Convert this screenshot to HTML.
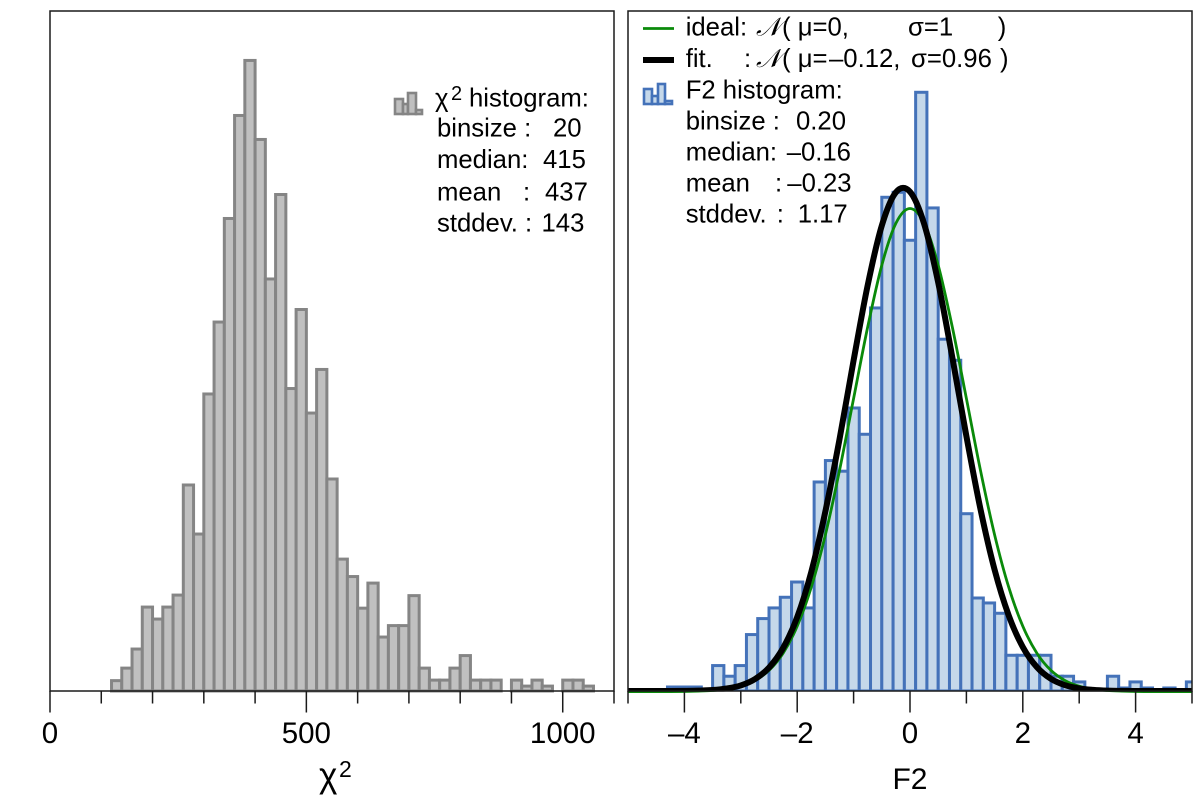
<!DOCTYPE html>
<html lang="en">
<head>
<meta charset="utf-8">
<title>Chi-square and F2 histograms</title>
<style>
html,body{margin:0;padding:0;background:#fff;width:1200px;height:809px;overflow:hidden}
svg{display:block}
text{font-family:"Liberation Sans","DejaVu Sans",sans-serif;fill:#000}
.leg{font-size:25.7px}
.tick{font-size:29.5px;text-anchor:middle}
</style>
</head>
<body>
<svg id="fig" width="1200" height="809" viewBox="0 0 1200 809" xmlns="http://www.w3.org/2000/svg">
  <defs>
    <clipPath id="clip-right-bars"><rect x="628" y="11" width="564" height="680"/></clipPath>
    <clipPath id="clip-green"><rect x="628" y="11" width="564" height="682.5"/></clipPath>
    <clipPath id="clip-black"><rect x="628" y="11" width="564" height="680.6"/></clipPath>
  </defs>
  <g id="left-marks"></g>
  <g id="right-bars" clip-path="url(#clip-right-bars)"></g>
  <g clip-path="url(#clip-green)"><path id="ideal-curve" fill="none" stroke="#0a8a0a" stroke-width="2.8" transform="translate(0,0.6)"/></g>
  <g clip-path="url(#clip-black)"><path id="fit-curve" fill="none" stroke="#000" stroke-width="6"/></g>
  <g id="left-axis"></g>
  <g id="right-axis"></g>
  <rect x="50" y="11" width="564" height="680" fill="none" stroke="#1a1a1a" stroke-width="1.5"/>
  <rect x="628" y="11" width="564" height="680" fill="none" stroke="#1a1a1a" stroke-width="1.5"/>

  <text x="319" y="787" font-size="35">χ<tspan x="339" y="777" font-size="23">2</tspan></text>
  <text x="910" y="789" font-size="30" text-anchor="middle">F2</text>

  <g>
    <g fill="#bfbfbf" stroke="#858585" stroke-width="2.6">
      <rect x="395" y="99" width="8" height="15"/>
      <rect x="403" y="104" width="5" height="10"/>
      <rect x="408" y="93" width="8" height="21"/>
      <rect x="416" y="110" width="6" height="4"/>
    </g>
    <text class="leg" x="435" y="106.7">χ<tspan x="451" y="100" font-size="20">2</tspan><tspan x="469" y="106.7">histogram:</tspan></text>
    <text class="leg" x="437" y="136.7">binsize :<tspan x="553">20</tspan></text>
    <text class="leg" x="437" y="168">median:<tspan x="543">415</tspan></text>
    <text class="leg" x="437" y="200.7">mean<tspan x="523">:</tspan><tspan x="545">437</tspan></text>
    <text class="leg" x="437" y="231.7">stddev. :<tspan x="541.5">143</tspan></text>
  </g>

  <g>
    <line x1="643" x2="674" y1="28.5" y2="28.5" stroke="#0a8a0a" stroke-width="2.8"/>
    <line x1="643" x2="674" y1="60" y2="60" stroke="#000" stroke-width="6"/>
    <g fill="#c5d8ea" stroke="#4472b9" stroke-width="2.6">
      <rect x="644" y="89" width="8" height="15"/>
      <rect x="652" y="96" width="6" height="8"/>
      <rect x="658" y="84" width="7" height="20"/>
      <rect x="665" y="101" width="7" height="3"/>
    </g>
    <text class="leg" x="685.7" y="35.7">ideal:<tspan x="756" font-family="'DejaVu Sans','Liberation Serif',serif" font-style="italic">𝒩</tspan><tspan x="782">(</tspan><tspan x="797.7">μ=0,</tspan><tspan x="908">σ=1</tspan><tspan x="997.7">)</tspan></text>
    <text class="leg" x="685.7" y="67">fit.<tspan x="744">:</tspan><tspan x="756" font-family="'DejaVu Sans','Liberation Serif',serif" font-style="italic">𝒩</tspan><tspan x="782">(</tspan><tspan x="797.7">μ=</tspan><tspan x="829">–0.12,</tspan><tspan x="911">σ=0.96</tspan><tspan x="1000">)</tspan></text>
    <text class="leg" x="685.7" y="98.3">F2 histogram:</text>
    <text class="leg" x="685.7" y="129.3">binsize :<tspan x="796">0.20</tspan></text>
    <text class="leg" x="685.7" y="160.7">median:<tspan x="786.7">–0.16</tspan></text>
    <text class="leg" x="685.7" y="191.7">mean<tspan x="775">:</tspan><tspan x="787.3">–0.23</tspan></text>
    <text class="leg" x="685.7" y="222.3">stddev.<tspan x="776.7">:</tspan><tspan x="797.7">1.17</tspan></text>
  </g>
</svg>
<script>
// chi2 histogram data
const chi2BinStarts = [120,140,160,180,200,220,240,260,280,300,320,340,360,380,400,420,440,460,480,500,520,540,560,580,600,620,640,660,680,700,720,740,760,780,800,820,840,860,880,900,920,940,960,980,1000,1020,1040];
const chi2Counts = [1.9,4.2,7.7,15.4,13.2,15.4,17.6,37.8,28.8,54.5,67.7,86.7,105.6,115.7,101.2,75.6,91.1,55.5,70,51,59,38.9,24.2,21,15.2,19.8,9.9,12,12,17.5,4.2,2,2,4.2,6.5,2,2,2,0,2,0.9,2,0.9,0,2,2,0.9];
const chi2BinWidth = [20];
const chi2MajorTicks = [0,500,1000];
const chi2MinorTicks = [100,200,300,400,600,700,800,900,1100];

// F2 histogram data (density)
const f2BinStarts = [-4.3,-4.1,-3.9,-3.7,-3.5,-3.3,-3.1,-2.9,-2.7,-2.5,-2.3,-2.1,-1.9,-1.7,-1.5,-1.3,-1.1,-0.9,-0.7,-0.5,-0.3,-0.1,0.1,0.3,0.5,0.7,0.9,1.1,1.3,1.5,1.7,1.9,2.1,2.3,2.5,2.7,2.9,3.1,3.3,3.5,3.7,3.9,4.1,4.3,4.5,4.7,4.9];
const f2Density = [0.0033,0.0033,0.0033,0,0.0210,0.0122,0.0210,0.0466,0.0598,0.0686,0.0774,0.0900,0.0686,0.1726,0.1903,0.1815,0.2337,0.2120,0.3163,0.4077,0.4118,0.3722,0.4944,0.3989,0.2905,0.2731,0.1464,0.0768,0.0727,0.0642,0.0295,0.0295,0.0295,0.0295,0.0122,0.0122,0.0075,0,0,0.0122,0.0025,0.0075,0.0025,0,0.0025,0,0.0075];
const f2BinWidth = [0.2];
const f2MajorTicks = [-4,-2,0,2,4];
const f2MinorTicks = [-5,-3,-1,1,3,5];

// curve values read at a regular F2 grid
const curveX = [-5,-4.75,-4.5,-4.25,-4,-3.75,-3.5,-3.25,-3,-2.75,-2.5,-2.25,-2,-1.75,-1.5,-1.25,-1,-0.75,-0.5,-0.25,0,0.25,0.5,0.75,1,1.25,1.5,1.75,2,2.25,2.5,2.75,3,3.25,3.5,3.75,4,4.25,4.5,4.75,5];
const idealCurve = [0,0,0,0,0.0001,0.0004,0.0009,0.0020,0.0044,0.0091,0.0175,0.0317,0.0540,0.0863,0.1295,0.1826,0.2420,0.3011,0.3521,0.3867,0.3989,0.3867,0.3521,0.3011,0.2420,0.1826,0.1295,0.0863,0.0540,0.0317,0.0175,0.0091,0.0044,0.0020,0.0009,0.0004,0.0001,0,0,0,0];
const fitCurve = [0,0,0,0,0.0001,0.0003,0.0008,0.0021,0.0046,0.0098,0.0193,0.0355,0.0610,0.0984,0.1484,0.2078,0.2730,0.3351,0.3843,0.4118,0.4123,0.3858,0.3373,0.2756,0.2104,0.1501,0.1001,0.0624,0.0363,0.0197,0.0100,0.0048,0.0021,0.0009,0.0003,0.0001,0,0,0,0,0];

const NS = 'http://www.w3.org/2000/svg';
const baseY = 691;
function xChi(v){ return 50 + v * (564 / 1100); }
function yChi(v){ return baseY - v * 5.45; }
function xF2(v){ return 910 + v * 56.4; }
function yF2(v){ return baseY - v * 1211; }

function make(tag, attrs, parent){
  const el = document.createElementNS(NS, tag);
  for (const k in attrs) el.setAttribute(k, attrs[k]);
  parent.appendChild(el);
  return el;
}

const leftMarks = document.getElementById('left-marks');
chi2BinStarts.forEach(function(s, i){
  if (chi2Counts[i] <= 0) return;
  const x0 = xChi(s), x1 = xChi(s + chi2BinWidth[0]), y = yChi(chi2Counts[i]);
  const el = make('rect', {x:x0, y:y, width:x1 - x0, height:baseY - y, fill:'#c0c0c0', stroke:'#858585', 'stroke-width':3}, leftMarks);
  
  
});

const rightBars = document.getElementById('right-bars');
f2BinStarts.forEach(function(s, i){
  if (f2Density[i] <= 0) return;
  const x0 = xF2(s), x1 = xF2(s + f2BinWidth[0]), y = yF2(f2Density[i]);
  const el = make('rect', {x:x0, y:y, width:x1 - x0, height:baseY - y, fill:'#c5d8ea', stroke:'#4472b9', 'stroke-width':3}, rightBars);
  
  
});

function smoothPath(xs, ys){
  const p = xs.map(function(x, i){ return [xF2(x), yF2(ys[i])]; });
  let d = 'M' + p[0][0] + ' ' + p[0][1];
  for (let i = 0; i < p.length - 1; i++){
    const a = p[Math.max(i - 1, 0)], b = p[i], c = p[i + 1], e = p[Math.min(i + 2, p.length - 1)];
    d += 'C' + (b[0] + (c[0] - a[0]) / 6) + ' ' + (b[1] + (c[1] - a[1]) / 6) + ' ' +
         (c[0] - (e[0] - b[0]) / 6) + ' ' + (c[1] - (e[1] - b[1]) / 6) + ' ' + c[0] + ' ' + c[1];
  }
  return d;
}
document.getElementById('ideal-curve').setAttribute('d', smoothPath(curveX, idealCurve));
document.getElementById('fit-curve').setAttribute('d', smoothPath(curveX, fitCurve));

function drawTicks(parent, scale, majors, minors){
  majors.forEach(function(v){
    const x = scale(v);
    const t = make('line', {x1:x, x2:x, y1:baseY, y2:712.5, stroke:'#1a1a1a', 'stroke-width':1.5}, parent);
    
    
    const lab = make('text', {x:x, y:743, class:'tick'}, parent);
    
    
    lab.textContent = String(v).replace('-', '–');
  });
  minors.forEach(function(v){
    const x = scale(v);
    const t = make('line', {x1:x, x2:x, y1:baseY, y2:703.5, stroke:'#1a1a1a', 'stroke-width':1.5}, parent);
    
    
  });
}
drawTicks(document.getElementById('left-axis'), xChi, chi2MajorTicks, chi2MinorTicks);
drawTicks(document.getElementById('right-axis'), xF2, f2MajorTicks, f2MinorTicks);
</script>
</body>
</html>
